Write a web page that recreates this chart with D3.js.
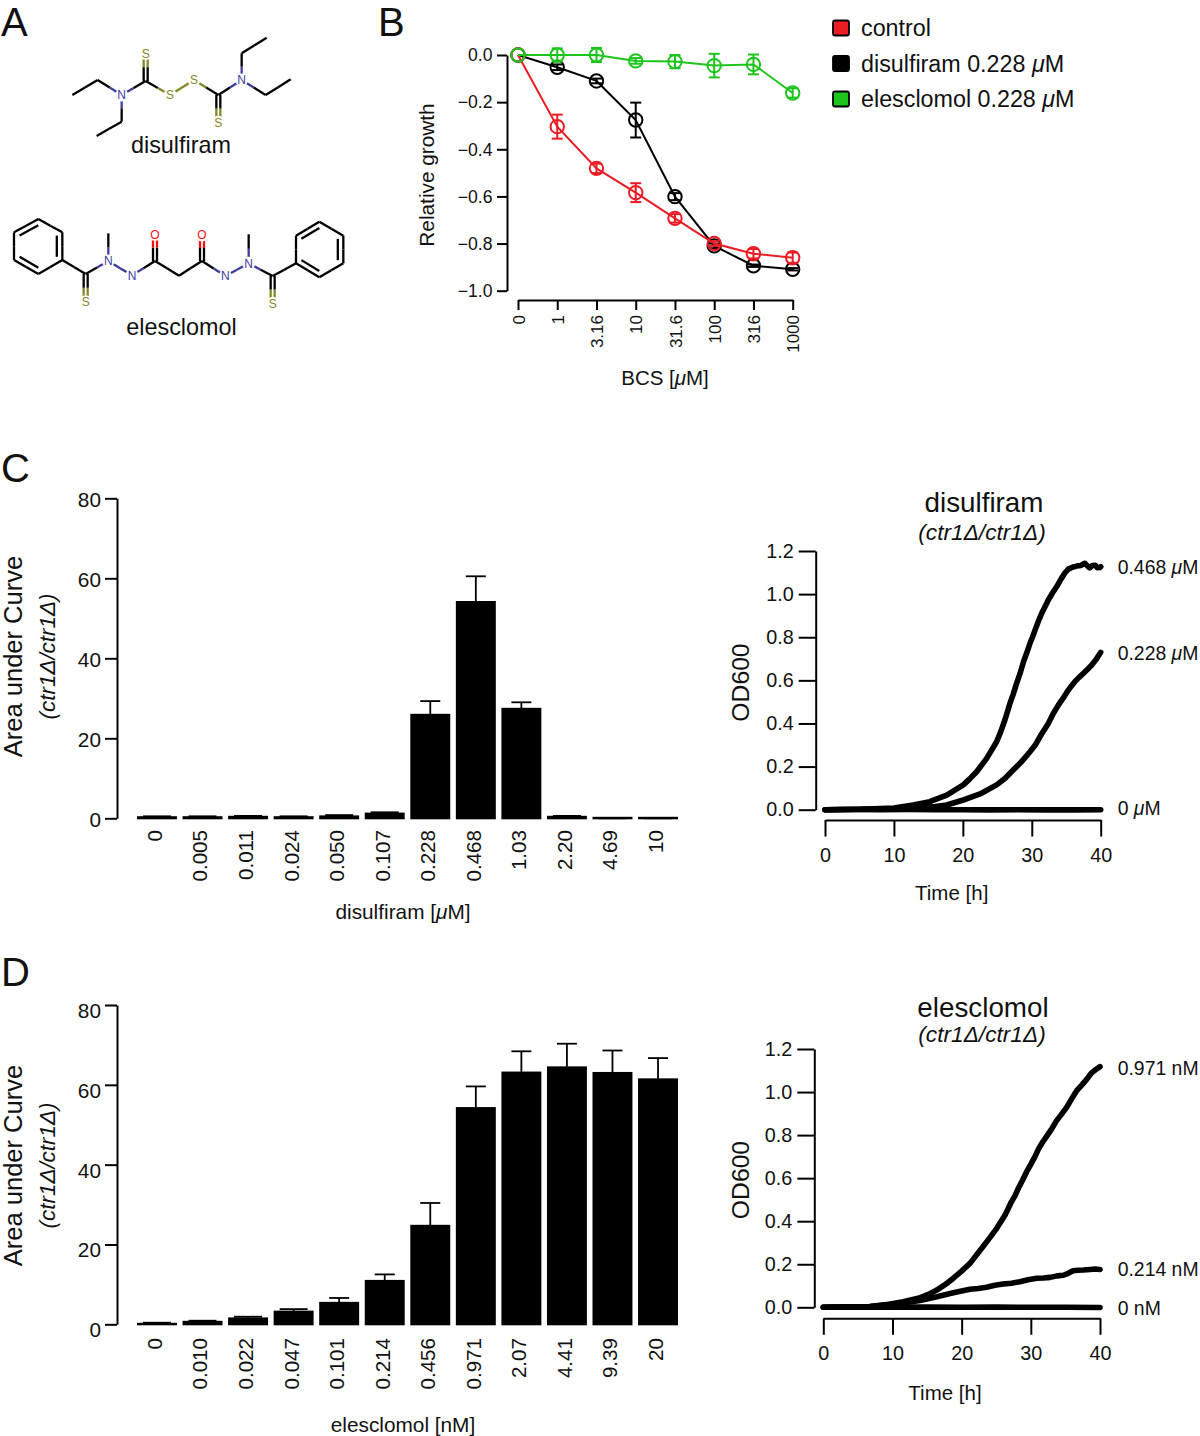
<!DOCTYPE html>
<html><head><meta charset="utf-8">
<script src="https://cdn.jsdelivr.net/npm/d3@7"></script>
<style>html,body{margin:0;padding:0;background:#fff}svg{display:block}text{font-family:"Liberation Sans",Arial,sans-serif;fill:#111}</style>
</head><body><svg id="fig" width="1200" height="1436"></svg>
<script>
// Panel B
const bcsLabels=["0","1","3.16","10","31.6","100","316","1000"];
const growthTicks=[0,-0.2,-0.4,-0.6,-0.8,-1];
const controlMean=[0,-0.304,-0.481,-0.584,-0.693,-0.80,-0.843,-0.86];
const controlErr=[0,0.051,0.02,0.04,0.018,0.01,0.02,0.022];
const disulfiramMean=[0,-0.052,-0.11,-0.276,-0.601,-0.81,-0.894,-0.909];
const disulfiramErr=[0,0.012,0.01,0.074,0.015,0.01,0.005,0.005];
const elesclomolMean=[0,0,0,-0.025,-0.028,-0.045,-0.04,-0.161];
const elesclomolErr=[0,0.028,0.03,0.012,0.028,0.05,0.042,0.02];
const legendNames=["control","disulfiram 0.228 ","elesclomol 0.228 "];
// Panel C
const disConc=["0","0.005","0.011","0.024","0.050","0.107","0.228","0.468","1.03","2.20","4.69","10"];
const disAuc=[0.4,0.4,0.5,0.4,0.6,1.3,26,54.2,27.5,0.5,-0.1,-0.1];
const disAucTop=[0.5,0.5,0.6,0.5,0.8,1.5,29.3,60.5,29,0.6,0,0];
// Panel D
const eleConc=["0","0.010","0.022","0.047","0.101","0.214","0.456","0.971","2.07","4.41","9.39","20"];
const eleAuc=[0.25,0.75,1.6,3.3,5.5,11,24.8,54.3,63.2,64.5,63.1,61.5];
const eleAucTop=[0.4,0.9,1.9,3.8,6.6,12.5,30.4,59.6,68.4,70.3,68.6,66.7];
const aucTicks=[0,20,40,60,80];
const odTicks=[0,0.2,0.4,0.6,0.8,1.0,1.2];
const timeTicks=[0,10,20,30,40];
// growth curves [hours, OD600]
const dis468=[[0,0],[5,0.002],[10,0.008],[12.8,0.022],[15.2,0.037],[17.66,0.068],[20.07,0.115],[21,0.143],[22,0.176],[23.46,0.238],[24.9,0.315],[25.5,0.362],[26.1,0.416],[26.84,0.4935],[27.3,0.535],[27.8,0.586],[28.3,0.632],[28.8,0.686],[29.3,0.73],[29.74,0.772],[30.1,0.8],[30.47,0.833],[31,0.878],[31.44,0.911],[31.9,0.94],[32.4,0.973],[33,1.005],[33.6,1.034],[34.3,1.073],[34.8,1.098],[35.3,1.116],[35.9,1.125],[36.5,1.13],[37.1,1.133],[37.7,1.143],[38.1,1.13],[38.4,1.122],[38.8,1.133],[39.2,1.134],[39.5,1.122],[39.9,1.124],[40,1.127]];
const dis228=[[0,0],[10,0.004],[14,0.01],[16,0.015],[17.66,0.022],[20.07,0.045],[22.5,0.073],[24.9,0.115],[26.1,0.145],[27.3,0.184],[28.5,0.222],[29.74,0.269],[30.5,0.3],[31.4,0.35],[32.4,0.40],[33.1,0.445],[33.85,0.485],[34.5,0.515],[35.1,0.545],[35.7,0.572],[36.3,0.596],[36.9,0.615],[37.5,0.633],[38.1,0.652],[38.7,0.671],[39.3,0.695],[40,0.73]];
const dis0=[[0,0],[4,0.001],[8,0],[12,0.001],[16,0],[20,0],[24,-0.001],[28,0],[32,-0.001],[36,-0.001],[40,0]];
const ele971=[[0,0],[4,0.002],[6.75,0.004],[9.5,0.014],[11.56,0.026],[14,0.045],[15.2,0.06],[16.4,0.08],[17.6,0.105],[18.8,0.135],[20,0.168],[21.2,0.204],[22.2,0.245],[23.1,0.282],[24,0.32],[25.07,0.367],[26.3,0.43],[27.2,0.49],[27.7,0.518],[28.2,0.553],[28.8,0.59],[29.4,0.63],[30,0.664],[30.6,0.70],[31.1,0.735],[31.6,0.762],[32.3,0.795],[33,0.828],[33.7,0.866],[34.4,0.895],[35.2,0.93],[35.9,0.968],[36.6,1.005],[37.3,1.03],[38.1,1.06],[38.8,1.09],[39.4,1.105],[40,1.118]];
const ele214=[[0,0],[6.75,0.003],[11.56,0.02],[14,0.032],[16.4,0.049],[18.8,0.068],[21.2,0.084],[22.4,0.087],[23.6,0.093],[24.8,0.102],[26,0.108],[27.2,0.112],[28.4,0.119],[29.6,0.128],[30.85,0.135],[31.8,0.136],[32.8,0.139],[33.8,0.146],[34.7,0.149],[35.4,0.158],[36.1,0.17],[36.8,0.172],[37.6,0.173],[38.6,0.176],[39.3,0.178],[40,0.176]];
const ele0=[[0,0],[5,0.001],[10,0.001],[15,0.001],[20,0],[25,0.001],[30,0],[35,0],[40,-0.001]];
// Panel A, structural formula geometry
const disAtoms=[[217,285],[293,240],[365,285,"N"],[365,365],[290,408],[437,243],[437,160,"S"],[510,285,"S"],[582,240,"S"],[655,285],[655,367,"S"],[725,240,"N"],[725,160],[800,113],[797,285],[872,238]];
const disBonds=[[0,1,1],[1,2,1],[2,3,1],[3,4,1],[2,5,1],[5,6,2],[5,7,1],[7,8,1],[8,9,1],[9,10,2],[9,11,1],[11,12,1],[12,13,1],[11,14,1],[14,15,1]];
const eleAtoms=[[115,657],[187,697],[187,780],[115,822],[42,780],[42,697],[257,822],[257,905,"S"],[325,783,"N"],[325,700],[396,826,"N"],[465,783],[465,703,"O"],[537,827],[606,783],[606,705,"O"],[676,828,"N"],[746,790,"N"],[746,703],[818,828],[818,910,"S"],[888,790],[888,707],[958,665],[1030,707],[1030,790],[958,832]];
const eleBonds=[[0,1,1],[1,2,1],[2,3,1],[3,4,1],[4,5,1],[5,0,1],[2,6,1],[6,7,2],[6,8,1],[8,9,1],[8,10,1],[10,11,1],[11,12,2],[11,13,1],[13,14,1],[14,15,2],[14,16,1],[16,17,1],[17,18,1],[17,19,1],[19,20,2],[19,21,1],[21,22,1],[22,23,1],[23,24,1],[24,25,1],[25,26,1],[26,21,1]];
const eleRingInner=[[0,5,[115,739]],[1,2,[115,739]],[3,4,[115,739]],[22,23,[958,748]],[24,25,[958,748]],[26,21,[958,748]]];

const svg=d3.select("#fig");
const BLACK="#000";
const txt=(s,x,y,size,o={})=>{
  const t=s.append("text").attr("x",x).attr("y",y).attr("font-size",size).attr("text-anchor",o.anchor||"middle");
  if(o.rot) t.attr("transform",`rotate(-90 ${x} ${y})`);
  if(o.italic) t.attr("font-style","italic");
  if(o.fill) t.style("fill",o.fill);
  return t;
};
const unitLabel=(t,pre,post)=>{t.append("tspan").text(pre);t.append("tspan").attr("font-style","italic").text("\u03bc");t.append("tspan").text(post);return t;};
const styleAxis=(g,w)=>{g.selectAll("path,line").attr("stroke",BLACK).attr("stroke-width",w).attr("fill","none");};

// panel letters
[["A",1,36],["B",378,36],["C",1,482],["D",1,986]].forEach(d=>txt(svg,d[1],d[2],40,{anchor:"start"}).text(d[0]));

// ---- A
const mol=d3.scaleLinear().domain([0,1110]).range([0,370]);
const atomColor={S:"#85852a",N:"#3d3d9e",O:"#ee1111"};
function drawMol(atoms,bonds,inner){
  const g=svg.append("g");
  const seg=(p,q,off,color)=>{
    const dx=q[0]-p[0],dy=q[1]-p[1],L=Math.hypot(dx,dy),nx=-dy/L*off,ny=dx/L*off;
    g.append("line").attr("x1",mol(p[0]+nx)).attr("y1",mol(p[1]+ny)).attr("x2",mol(q[0]+nx)).attr("y2",mol(q[1]+ny))
     .attr("stroke",color).attr("stroke-width",2.3);
  };
  bonds.forEach(([a,b,o])=>{
    const A=atoms[a],B=atoms[b],m=[(A[0]+B[0])/2,(A[1]+B[1])/2];
    const offs=o===2?[-6,6]:[0];
    offs.forEach(f=>{seg(A,m,f,A[2]?atomColor[A[2]]:BLACK);seg(m,B,f,B[2]?atomColor[B[2]]:BLACK);});
  });
  (inner||[]).forEach(([a,b,c])=>{
    const sh=p=>[c[0]+(p[0]-c[0])*0.77,c[1]+(p[1]-c[1])*0.77];
    seg(sh(atoms[a]),sh(atoms[b]),0,BLACK);
  });
  atoms.filter(d=>d[2]).forEach(d=>{
    g.append("circle").attr("cx",mol(d[0])).attr("cy",mol(d[1])).attr("r",6.5).attr("fill","#fff");
    txt(g,mol(d[0]),mol(d[1])+4.3,12,{fill:atomColor[d[2]]}).text(d[2]);
  });
}
drawMol(disAtoms,disBonds);
drawMol(eleAtoms,eleBonds,eleRingInner);
txt(svg,181,153,23.4).text("disulfiram");
txt(svg,181.5,335,23.4).text("elesclomol");

// ---- B
const bx=d3.scaleLinear().domain([0,bcsLabels.length-1]).range([518,792.7]);
const by=d3.scaleLinear().domain([0,-1]).range([55,290.7]);
const bAxisY=svg.append("g").attr("transform","translate(507,0)")
  .call(d3.axisLeft(by).tickValues(growthTicks).tickSizeInner(10).tickSizeOuter(0).tickFormat(d=>(d<0?"\u2212":"")+Math.abs(d).toFixed(1)));
styleAxis(bAxisY,2);
bAxisY.selectAll("text").attr("x",-14.5).attr("dy","0.33em").attr("font-size",17.6).attr("font-family",null);
const bAxisX=svg.append("g").attr("transform","translate(0,300)")
  .call(d3.axisBottom(bx).tickValues(d3.range(bcsLabels.length)).tickSizeInner(10).tickSizeOuter(0).tickFormat(i=>bcsLabels[i]));
styleAxis(bAxisX,2);
bAxisX.selectAll("text").attr("font-size",17).attr("font-family",null).attr("text-anchor","end").attr("dy","0.36em").attr("x",0).attr("y",0)
  .attr("transform","translate(0,15) rotate(-90)");
txt(svg,434,175,20.8,{rot:true}).text("Relative growth");
unitLabel(txt(svg,665,385,20.5),"BCS [","M]");
const bSeries=[{m:disulfiramMean,e:disulfiramErr,c:"#000"},{m:controlMean,e:controlErr,c:"#ea1c24"},{m:elesclomolMean,e:elesclomolErr,c:"#1cc41c"}];
const bLine=d3.line().x((d,i)=>bx(i)).y(d=>by(d));
bSeries.forEach(s=>{
  const g=svg.append("g").attr("stroke",s.c).attr("fill","none").attr("stroke-width",2);
  g.append("path").attr("d",bLine(s.m));
  s.m.forEach((v,i)=>{
    if(s.e[i]>0){
      g.append("line").attr("x1",bx(i)).attr("x2",bx(i)).attr("y1",by(v+s.e[i])).attr("y2",by(v-s.e[i]));
      [v+s.e[i],v-s.e[i]].forEach(w=>g.append("line").attr("x1",bx(i)-5.5).attr("x2",bx(i)+5.5).attr("y1",by(w)).attr("y2",by(w)));
    }
    g.append("circle").attr("cx",bx(i)).attr("cy",by(v)).attr("r",6.7);
  });
});
// legend
const legendColors=["#ea1c24","#000","#1cc41c"];
const legendRow=d3.scalePoint().domain([0,1,2]).range([28,99]);
legendNames.forEach((n,i)=>{
  const y=legendRow(i);
  svg.append("rect").attr("x",833).attr("y",y-7.5).attr("width",16).attr("height",15).attr("rx",2).attr("fill",legendColors[i]).attr("stroke","#000").attr("stroke-width",1.8);
  const t=txt(svg,861,y+8,23.3,{anchor:"start"});
  if(i===0) t.text(n); else unitLabel(t,n,"M");
});

// ---- C, D bar panels
function barPanel(o){
  const x=d3.scaleBand().domain(d3.range(o.labels.length)).range([137,678]).paddingInner(0.123).paddingOuter(0);
  const y=d3.scaleLinear().domain([0,80]).range([o.y0,o.y80]);
  const g=svg.append("g").attr("transform","translate(117,0)")
    .call(d3.axisLeft(y).tickValues(aucTicks).tickSizeInner(12).tickSizeOuter(0));
  styleAxis(g,2);
  g.selectAll("text").attr("x",-16).attr("dy",0).attr("y",o.tickDy+7).attr("font-size",20.8).attr("font-family",null);
  o.vals.forEach((v,i)=>{
    svg.append("rect").attr("x",x(i)).attr("width",x.bandwidth())
      .attr("y",Math.min(y(v),y(0)-1)-0.5).attr("height",Math.max(Math.abs(y(v)-y(0)),1)+1.5).attr("fill","#000");
    const cx=x(i)+x.bandwidth()/2;
    if(o.tops[i]>v){
      svg.append("line").attr("x1",cx).attr("x2",cx).attr("y1",y(o.tops[i])).attr("y2",y(v)).attr("stroke","#000").attr("stroke-width",1.8);
      const half=o.tops[i]-v<0.8?14:10;
      svg.append("line").attr("x1",cx-half).attr("x2",cx+half).attr("y1",y(o.tops[i])).attr("y2",y(o.tops[i])).attr("stroke","#000").attr("stroke-width",1.8);
    }
    svg.append("text").attr("transform",`translate(${cx-2.5},${o.labelTop}) rotate(-90)`).attr("text-anchor","end").attr("dy","0.36em").attr("font-size",20.6).text(o.labels[i]);
  });
  txt(svg,22,o.cy,25.5,{rot:true}).text("Area under Curve");
  txt(svg,54.5,o.cy,22.4,{rot:true,italic:true}).text("(ctr1\u0394/ctr1\u0394)");
  const xl=txt(svg,403,o.xlabY,20.8);
  if(o.unit==="u") unitLabel(xl,o.name+" [","M]"); else xl.text(o.name+" [nM]");
}
barPanel({labels:disConc,vals:disAuc,tops:disAucTop,y0:818.3,y80:498.3,tickDy:1,labelTop:830,cy:656.5,xlabY:919,unit:"u",name:"disulfiram"});
barPanel({labels:eleConc,vals:eleAuc,tops:eleAucTop,y0:1324.3,y80:1005,tickDy:5.5,labelTop:1338,cy:1165.5,xlabY:1431.7,unit:"n",name:"elesclomol"});

// ---- growth panels
function growthPanel(o){
  const x=d3.scaleLinear().domain([0,40]).range([o.x0,o.x40]);
  const y=d3.scaleLinear().domain([0,1.2]).range([o.y0,o.y12]);
  const gy=svg.append("g").attr("transform",`translate(${o.axX},0)`)
    .call(d3.axisLeft(y).tickValues(odTicks).tickSizeInner(17).tickSizeOuter(0).tickFormat(d3.format(".1f")));
  styleAxis(gy,2);
  gy.selectAll("text").attr("x",-22).attr("dy","0.31em").attr("font-size",19.8).attr("font-family",null);
  const gx=svg.append("g").attr("transform",`translate(0,${o.axY})`)
    .call(d3.axisBottom(x).tickValues(timeTicks).tickSizeInner(16.5).tickSizeOuter(0).tickFormat(d3.format("d")));
  styleAxis(gx,2);
  gx.selectAll("text").attr("y",0).attr("dy",o.tickBase-o.axY).attr("font-size",19.8).attr("font-family",null);
  const line=d3.line().x(d=>x(d[0])).y(d=>y(d[1]));
  o.curves.forEach(c=>svg.append("path").attr("d",line(c)).attr("fill","none").attr("stroke","#000").attr("stroke-width",5.6).attr("stroke-linecap","round").attr("stroke-linejoin","round"));
  txt(svg,o.timeX,o.timeY,20.5).text("Time [h]");
  txt(svg,749,o.odCy,24.7,{rot:true}).text("OD600");
  txt(svg,o.titleX,o.titleY,27.8).text(o.title);
  txt(svg,982,o.subY,22.7,{italic:true}).text("(ctr1\u0394/ctr1\u0394)");
  o.labels.forEach(l=>{
    const t=txt(svg,l[2],l[1],19.4,{anchor:"start"});
    if(o.unit==="u") unitLabel(t,l[0]+" ","M"); else t.text(l[0]+" nM");
  });
}
growthPanel({x0:825,x40:1100.7,y0:809.7,y12:551,axX:815.7,axY:820,tickBase:861.7,timeX:951.7,timeY:900,odCy:682.5,title:"disulfiram",titleX:984,titleY:511.7,subY:540,unit:"u",
  curves:[dis0,dis228,dis468],labels:[["0.468",574,1117.7],["0.228",660,1117.7],["0",815,1117.7]]});
growthPanel({x0:823.3,x40:1100,y0:1307.3,y12:1049,axX:814.3,axY:1318.3,tickBase:1360,timeX:945,timeY:1400,odCy:1180,title:"elesclomol",titleX:983,titleY:1016.7,subY:1041.7,unit:"n",
  curves:[ele0,ele214,ele971],labels:[["0.971",1075,1117.7],["0.214",1276,1117.7],["0",1315,1117.7]]});
</script></body></html>
